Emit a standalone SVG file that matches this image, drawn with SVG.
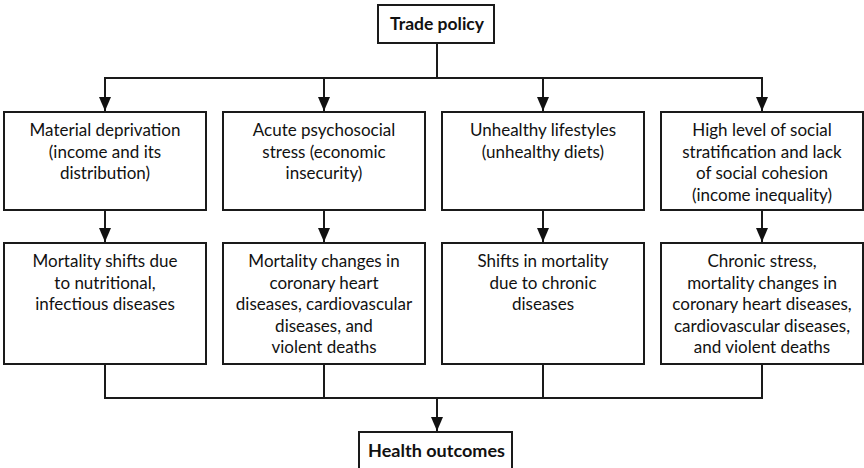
<svg xmlns="http://www.w3.org/2000/svg" width="864" height="468" viewBox="0 0 864 468">
<defs>
<marker id="ah" viewBox="0 0 14 12" refX="14" refY="6" markerWidth="14" markerHeight="12" markerUnits="userSpaceOnUse" orient="auto">
<path d="M0,0 L14,6 L0,12 Z" fill="#111"/>
</marker>
<style>
.box{fill:#fff;stroke:#1a1a1a;stroke-width:2}
.t{font-family:Lato,"Liberation Sans",sans-serif;font-size:17px;fill:#111;text-anchor:middle}
.b{font-weight:bold;font-size:16.5px}
.c{fill:none;stroke:#1a1a1a;stroke-width:2}
</style>
</defs>
<rect width="864" height="468" fill="#fff"/>
<g id="connectors">
<path class="c" d="M437,43 V78 M104,78 H763"/>
<path class="c" d="M105,78 V111" marker-end="url(#ah)"/>
<path class="c" d="M324,78 V111" marker-end="url(#ah)"/>
<path class="c" d="M543,78 V111" marker-end="url(#ah)"/>
<path class="c" d="M762,78 V111" marker-end="url(#ah)"/>
<path class="c" d="M105,210 V242" marker-end="url(#ah)"/>
<path class="c" d="M324,210 V242" marker-end="url(#ah)"/>
<path class="c" d="M543,210 V242" marker-end="url(#ah)"/>
<path class="c" d="M762,210 V242" marker-end="url(#ah)"/>
<path class="c" d="M105,364 V398 H762 V364 M324,364 V398 M543,364 V398"/>
<path class="c" d="M437,398 V431" marker-end="url(#ah)"/>
</g>
<g id="trade">
<rect class="box" x="378" y="5" width="116" height="38"/>
<text class="t b" x="437" y="29.5" textLength="94" lengthAdjust="spacingAndGlyphs">Trade policy</text>
</g>
<g id="material">
<rect class="box" x="4" y="112" width="202" height="98"/>
<text class="t" x="105" y="136">Material deprivation</text>
<text class="t" x="105" y="157.5">(income and its</text>
<text class="t" x="105" y="179">distribution)</text>
</g>
<g id="acute">
<rect class="box" x="223" y="112" width="202" height="98"/>
<text class="t" x="324" y="136">Acute psychosocial</text>
<text class="t" x="324" y="157.5">stress (economic</text>
<text class="t" x="324" y="179">insecurity)</text>
</g>
<g id="lifestyles">
<rect class="box" x="442" y="112" width="202" height="98"/>
<text class="t" x="543" y="136">Unhealthy lifestyles</text>
<text class="t" x="543" y="157.5">(unhealthy diets)</text>
</g>
<g id="stratification">
<rect class="box" x="661" y="112" width="202" height="98"/>
<text class="t" x="762" y="136">High level of social</text>
<text class="t" x="762" y="157.5">stratification and lack</text>
<text class="t" x="762" y="179">of social cohesion</text>
<text class="t" x="762" y="200.5">(income inequality)</text>
</g>
<g id="mortality1">
<rect class="box" x="4" y="243" width="202" height="121"/>
<text class="t" x="105" y="267">Mortality shifts due</text>
<text class="t" x="105" y="288.5">to nutritional,</text>
<text class="t" x="105" y="310">infectious diseases</text>
</g>
<g id="mortality2">
<rect class="box" x="223" y="243" width="202" height="121"/>
<text class="t" x="324" y="267">Mortality changes in</text>
<text class="t" x="324" y="288.5">coronary heart</text>
<text class="t" x="324" y="310">diseases, cardiovascular</text>
<text class="t" x="324" y="331.5">diseases, and</text>
<text class="t" x="324" y="353">violent deaths</text>
</g>
<g id="mortality3">
<rect class="box" x="442" y="243" width="202" height="121"/>
<text class="t" x="543" y="267">Shifts in mortality</text>
<text class="t" x="543" y="288.5">due to chronic</text>
<text class="t" x="543" y="310">diseases</text>
</g>
<g id="chronic">
<rect class="box" x="661" y="243" width="202" height="121"/>
<text class="t" x="762" y="267">Chronic stress,</text>
<text class="t" x="762" y="288.5">mortality changes in</text>
<text class="t" x="762" y="310">coronary heart diseases,</text>
<text class="t" x="762" y="331.5">cardiovascular diseases,</text>
<text class="t" x="762" y="353">and violent deaths</text>
</g>
<g id="health">
<rect class="box" x="359" y="432" width="153" height="40"/>
<text class="t b" x="436.5" y="456.5" textLength="137" lengthAdjust="spacingAndGlyphs">Health outcomes</text>
</g>
</svg>
